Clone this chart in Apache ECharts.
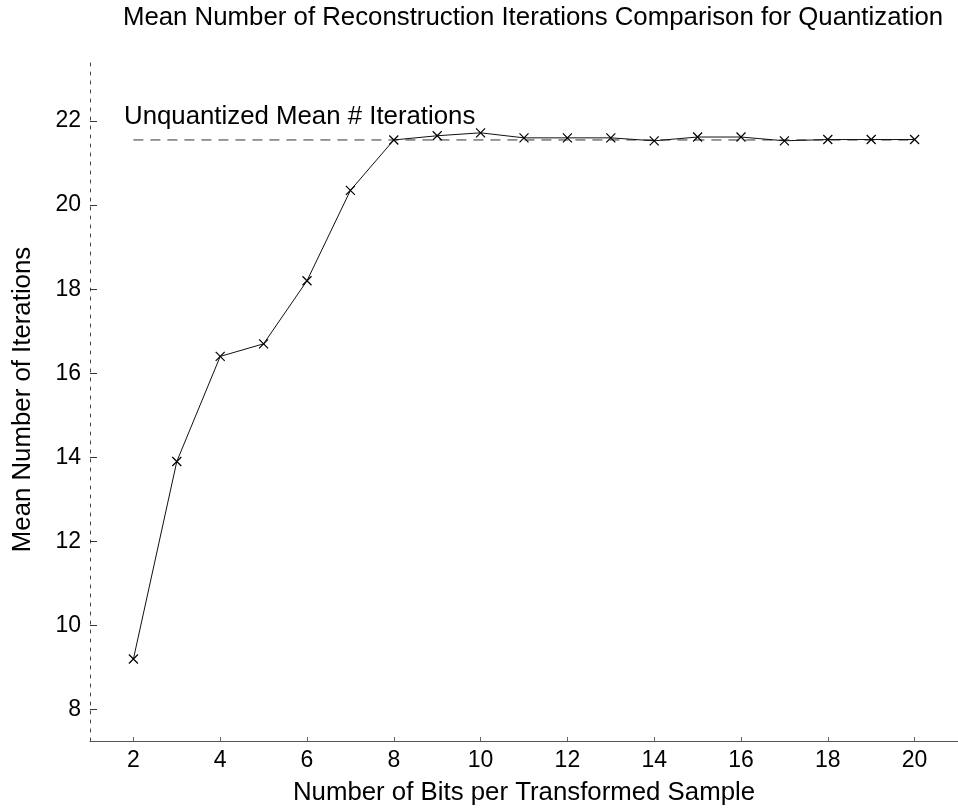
<!DOCTYPE html>
<html>
<head>
<meta charset="utf-8">
<style>
  html, body { margin: 0; padding: 0; background: #fff; }
  #chart { width: 958px; height: 811px; }
</style>
<script src="https://cdn.jsdelivr.net/npm/echarts@6/dist/echarts.min.js"></script>
</head>
<body>
<div id="chart"></div>
<script>
// Bits per transformed sample and mean reconstruction iterations
const bits = [2, 3, 4, 5, 6, 7, 8, 9, 10, 11, 12, 13, 14, 15, 16, 17, 18, 19, 20];
const meanIterations = [9.2, 13.9, 16.4, 16.7, 18.2, 20.35, 21.55, 21.65, 21.72, 21.6,
                        21.6, 21.6, 21.53, 21.62, 21.62, 21.53, 21.56, 21.56, 21.56];
const unquantizedMean = 21.55;
const xTicks = [2, 4, 6, 8, 10, 12, 14, 16, 18, 20];
const yTicks = [8, 10, 12, 14, 16, 18, 20, 22];

const FONT = '"Liberation Sans", Arial, sans-serif';
const TITLE_SIZE = 25.8;
const TICK_SIZE = 23;

const chart = echarts.init(document.getElementById('chart'), null, { renderer: 'canvas' });

// "x" marker drawn as two crossing strokes
const crossSymbol = 'path://M0,0L10,10M10,0L0,10';

chart.setOption({
  animation: false,
  backgroundColor: '#ffffff',
  title: {
    text: 'Mean Number of Reconstruction Iterations Comparison for Quantization',
    left: 528,
    textAlign: 'center',
    top: 0,
    textStyle: { fontFamily: FONT, fontSize: TITLE_SIZE, fontWeight: 'normal', color: '#000' }
  },
  grid: { left: 90, right: 0, top: 58, bottom: 67, containLabel: false },
  xAxis: {
    type: 'value',
    min: 1,
    max: 21,
    name: 'Number of Bits per Transformed Sample',
    nameLocation: 'middle',
    nameGap: 39,
    nameTextStyle: { fontFamily: FONT, fontSize: TITLE_SIZE, color: '#000' },
    axisLine: { show: true, lineStyle: { color: '#555', width: 1.2 } },
    axisTick: { show: true, inside: true, length: 4, customValues: xTicks, lineStyle: { color: '#666' } },
    axisLabel: { customValues: xTicks, fontFamily: FONT, fontSize: TICK_SIZE, color: '#000', margin: 8 },
    splitLine: { show: false }
  },
  yAxis: {
    type: 'value',
    min: 7.25,
    max: 23.5,
    name: 'Mean Number of Iterations',
    nameLocation: 'middle',
    nameGap: 54,
    nameRotate: 90,
    nameTextStyle: { fontFamily: FONT, fontSize: TITLE_SIZE, color: '#000' },
    axisLine: { show: true, lineStyle: { color: '#444', width: 1, type: [3, 6] } },
    axisTick: { show: true, inside: true, length: 7, customValues: yTicks, lineStyle: { color: '#333' } },
    axisLabel: { customValues: yTicks, fontFamily: FONT, fontSize: TICK_SIZE, color: '#000', margin: 9 },
    splitLine: { show: false }
  },
  series: [
    {
      name: 'Unquantized',
      type: 'line',
      data: [[bits[0], unquantizedMean], [bits[bits.length - 1], unquantizedMean]],
      showSymbol: false,
      lineStyle: { color: '#333', width: 1, type: [10, 7] },
      silent: true,
      z: 1
    },
    {
      name: 'Quantized',
      type: 'line',
      data: bits.map((b, i) => [b, meanIterations[i]]),
      symbol: crossSymbol,
      symbolSize: 9,
      showSymbol: true,
      itemStyle: { color: '#000', borderColor: '#000', borderWidth: 1.2 },
      lineStyle: { color: '#111', width: 1 },
      z: 2
    }
  ],
  graphic: [
    {
      type: 'text',
      x: 124,
      y: 130,
      style: {
        text: 'Unquantized Mean # Iterations',
        fontFamily: FONT,
        fontSize: TITLE_SIZE,
        fill: '#000',
        verticalAlign: 'bottom'
      }
    }
  ]
});
</script>
</body>
</html>
